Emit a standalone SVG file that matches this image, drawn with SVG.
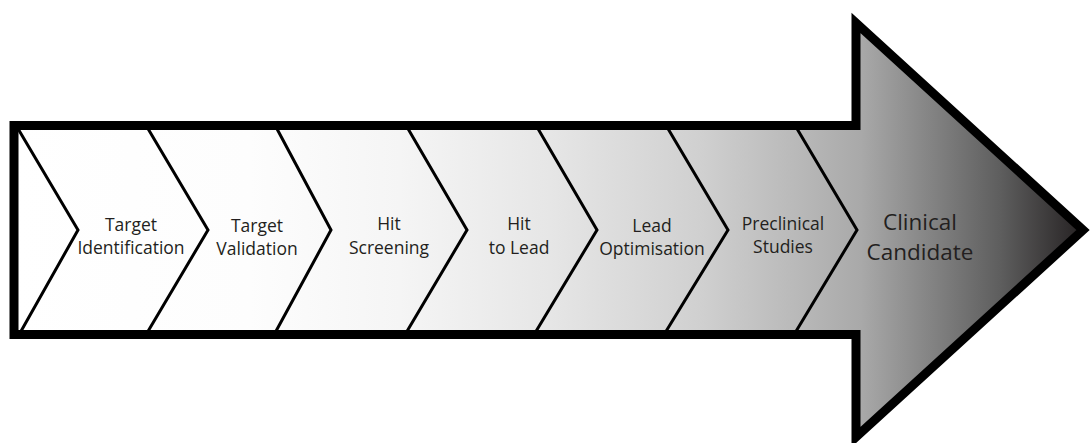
<svg xmlns="http://www.w3.org/2000/svg" width="1091" height="443" viewBox="0 0 1091 443">
  <defs>
    <!-- body shading: white on the left, fading to near black at the arrow tip -->
    <linearGradient id="bodyShade" gradientUnits="userSpaceOnUse" x1="14" y1="0" x2="1086" y2="0">
      <stop offset="0" stop-color="#ffffff"/>
      <stop offset="0.22" stop-color="#fdfdfd"/>
      <stop offset="0.36" stop-color="#f5f5f5"/>
      <stop offset="0.50" stop-color="#e6e6e6"/>
      <stop offset="0.64" stop-color="#d0d0d0"/>
      <stop offset="0.73" stop-color="#b9b9b9"/>
      <stop offset="0.79" stop-color="#a9a9a9"/>
      <stop offset="0.87" stop-color="#7b7b7b"/>
      <stop offset="0.92" stop-color="#5e5e5e"/>
      <stop offset="1" stop-color="#231f20"/>
    </linearGradient>
    <style>
      .outline { fill: url(#bodyShade); stroke: #000; stroke-width: 9; stroke-linejoin: miter; }
      .chev { fill: none; stroke: #000; stroke-width: 3; stroke-linejoin: miter; }
      .lbl { font-family: "Open Sans", "Liberation Sans", sans-serif; font-size: 17.5px; fill: #231f20; text-anchor: middle; }
      .lbl-big { font-size: 22.5px; }
    </style>
  </defs>

  <!-- big arrow body and head -->
  <path id="arrow-body" class="outline" d="M14,125.5 L856,125.5 L856,23 L1083,230 L856,437 L856,334.5 L14,334.5 Z"/>

  <g id="stages">
    <g id="stage-target-identification">
      <path class="chev" d="M17,127 L78,230 L20,333"/>
      <text class="lbl" x="131" y="231">Target</text>
      <text class="lbl" x="131" y="254">Identification</text>
    </g>
    <g id="stage-target-validation">
      <path class="chev" d="M147,127 L208,230 L147,333"/>
      <text class="lbl" x="257" y="232">Target</text>
      <text class="lbl" x="257" y="255">Validation</text>
    </g>
    <g id="stage-hit-screening">
      <path class="chev" d="M276,127 L331,230 L275,333"/>
      <text class="lbl" x="389" y="230">Hit</text>
      <text class="lbl" x="389" y="254">Screening</text>
    </g>
    <g id="stage-hit-to-lead">
      <path class="chev" d="M407,127 L467,230 L406,333"/>
      <text class="lbl" x="519" y="230">Hit</text>
      <text class="lbl" x="519" y="254">to Lead</text>
    </g>
    <g id="stage-lead-optimisation">
      <path class="chev" d="M537,127 L597,230 L535,333"/>
      <text class="lbl" x="652" y="232">Lead</text>
      <text class="lbl" x="652" y="255">Optimisation</text>
    </g>
    <g id="stage-preclinical-studies">
      <path class="chev" d="M667,127 L728,230 L665,333"/>
      <text class="lbl" x="783" y="230">Preclinical</text>
      <text class="lbl" x="783" y="253">Studies</text>
    </g>
    <g id="stage-clinical-candidate">
      <path class="chev" d="M796,127 L857,230 L795,333"/>
      <text class="lbl lbl-big" x="920" y="230">Clinical</text>
      <text class="lbl lbl-big" x="920" y="260">Candidate</text>
    </g>
  </g>
</svg>
